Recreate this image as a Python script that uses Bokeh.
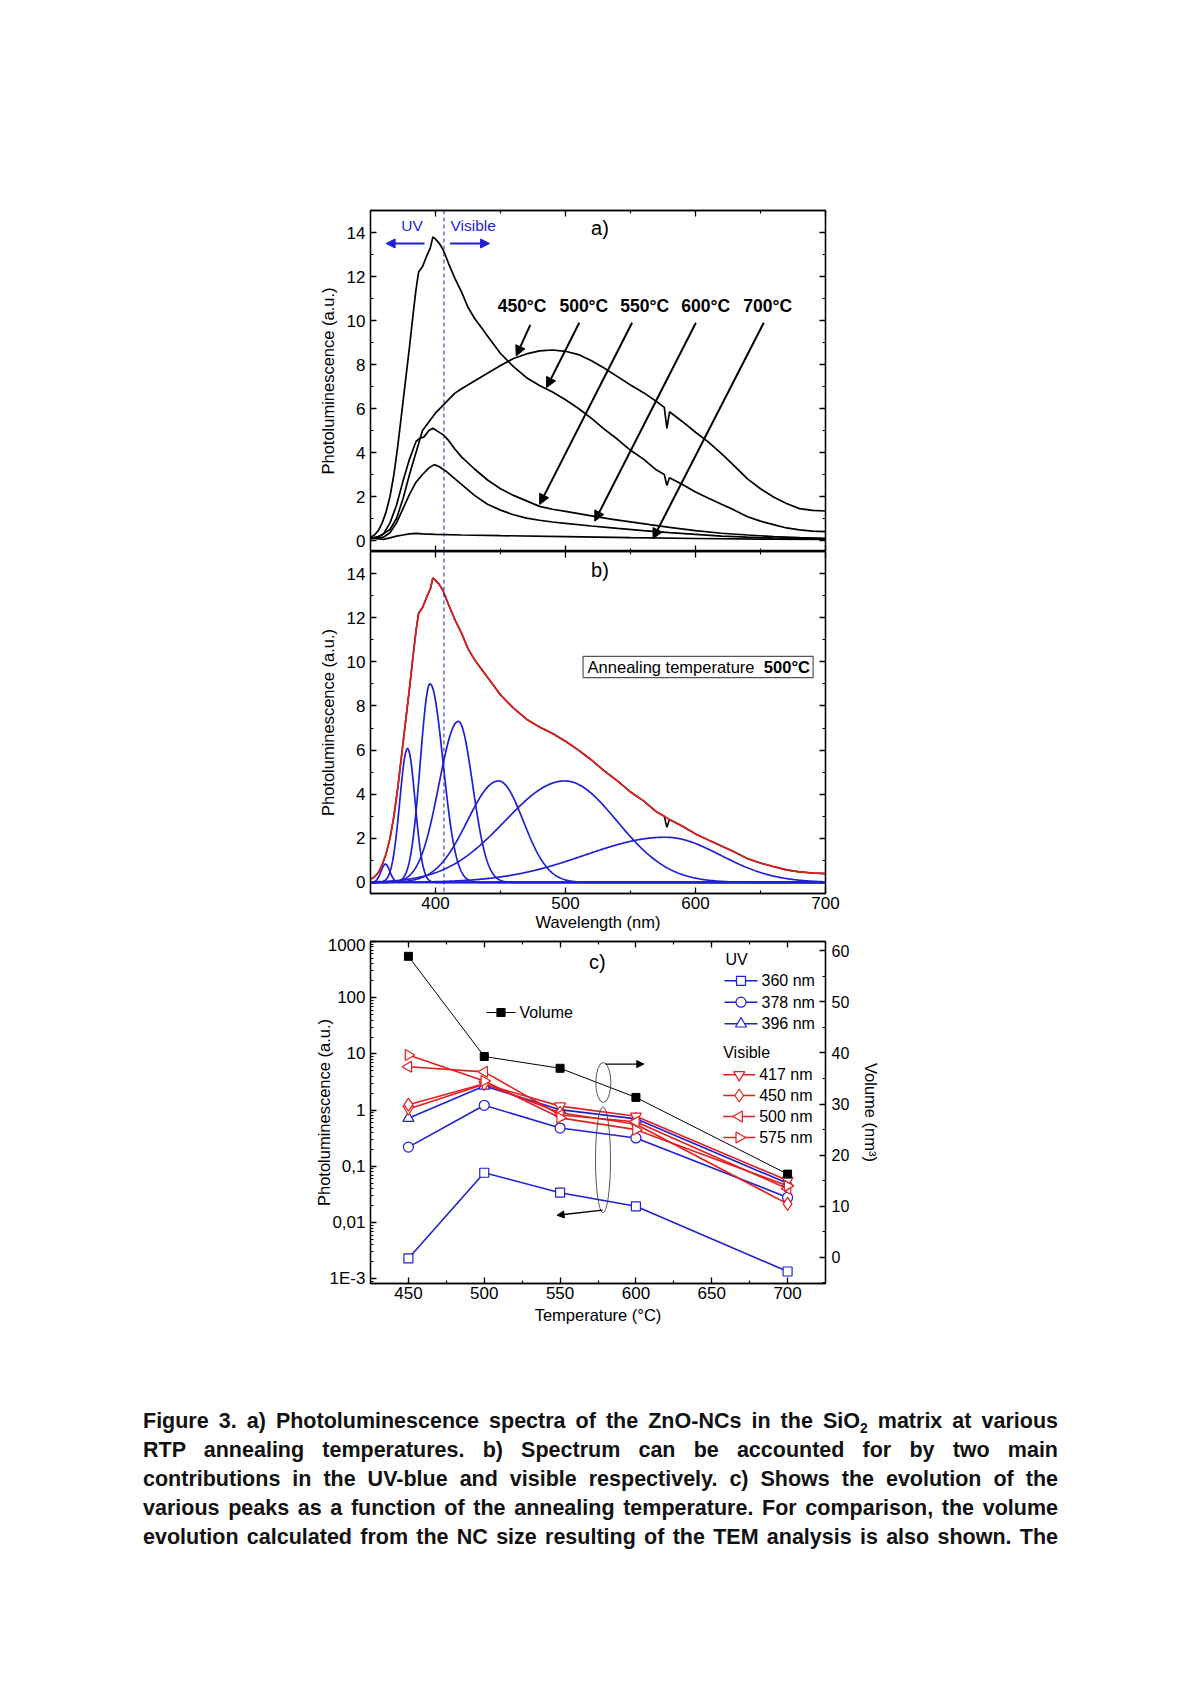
import numpy as np
from bokeh.plotting import figure
from bokeh.core.properties import value
from bokeh.models import (Range1d, LinearAxis, LinearScale, SingleIntervalTicker, FixedTicker, Span,
                          Label, Arrow, NormalHead, BoxAnnotation, Div, Spacer, CustomLabelingPolicy)
from bokeh.layouts import column, row
from bokeh.embed import file_html
from bokeh.resources import INLINE

FONT = "Liberation Sans"
BLUE = "#1f1fd4"
RED = "#e41f1f"
INK = "#000000"

# ---------------- Panel a: PL spectra per annealing temperature ----------------
wl_450 = [350, 355, 360, 365, 370, 375, 380, 385, 390, 395, 400, 405, 410, 415, 420, 430, 440, 450,
          460, 470, 480, 490, 500, 510, 520, 530, 540, 550, 560, 570, 576, 578, 580, 590, 600, 610,
          620, 630, 640, 650, 660, 670, 680, 690, 700]
pl_450 = [0.1, 0.15, 0.3, 0.5, 1.0, 1.9, 3.0, 4.0, 5.0, 5.4, 5.8, 6.1, 6.4, 6.7, 6.9, 7.25, 7.6, 7.95,
          8.27, 8.48, 8.62, 8.66, 8.6, 8.45, 8.17, 7.83, 7.45, 7.07, 6.72, 6.32, 6.05, 5.1, 5.85, 5.4,
          4.92, 4.47, 3.95, 3.38, 2.8, 2.35, 1.98, 1.68, 1.45, 1.37, 1.34]

wl_500 = [350, 353, 356, 359, 362, 365, 368, 371, 374, 377, 380, 383, 385, 387, 390, 393, 396, 398,
          400, 403, 406, 410, 415, 420, 425, 430, 435, 440, 445, 450, 455, 460, 470, 480, 490, 500,
          510, 520, 530, 540, 550, 560, 570, 576, 578, 580, 590, 600, 610, 620, 630, 640, 650, 660,
          670, 680, 690, 700]
pl_500 = [0.15, 0.25, 0.45, 0.8, 1.3, 2.0, 3.0, 4.3, 5.8, 7.3, 8.8, 10.4, 11.4, 12.2, 12.45, 12.9,
          13.3, 13.8, 13.7, 13.5, 13.2, 12.6, 11.9, 11.3, 10.6, 10.1, 9.7, 9.3, 8.9, 8.5, 8.2, 7.9,
          7.4, 7.05, 6.75, 6.4, 6.0, 5.55, 5.05, 4.6, 4.1, 3.7, 3.2, 3.0, 2.5, 2.85, 2.55, 2.2, 1.92,
          1.65, 1.38, 1.08, 0.88, 0.72, 0.57, 0.48, 0.43, 0.4]

wl_550 = [350, 355, 360, 365, 370, 375, 380, 385, 388, 391, 395, 398, 402, 406, 410, 415, 420, 430,
          440, 450, 460, 470, 480, 490, 500, 510, 520, 535, 550, 565, 580, 600, 620, 640, 660, 680, 700]
pl_550 = [0.1, 0.15, 0.3, 0.8, 1.6, 2.7, 3.7, 4.5, 4.65, 4.7, 5.0, 5.1, 4.95, 4.8, 4.55, 4.15, 3.8,
          3.25, 2.75, 2.35, 2.05, 1.8, 1.55, 1.42, 1.32, 1.22, 1.12, 0.97, 0.85, 0.72, 0.6, 0.45,
          0.33, 0.25, 0.18, 0.13, 0.1]

wl_600 = [350, 355, 360, 365, 370, 375, 380, 385, 390, 395, 399, 403, 408, 415, 420, 430, 440, 450,
          460, 470, 480, 490, 500, 520, 540, 560, 580, 600, 620, 640, 660, 680, 700]
pl_600 = [0.1, 0.1, 0.15, 0.35, 0.8, 1.45, 2.1, 2.65, 3.0, 3.3, 3.45, 3.35, 3.15, 2.8, 2.55, 2.05,
          1.65, 1.38, 1.17, 1.02, 0.92, 0.84, 0.78, 0.66, 0.55, 0.45, 0.36, 0.28, 0.2, 0.15, 0.11,
          0.09, 0.07]

wl_700 = [350, 355, 360, 365, 370, 375, 380, 385, 390, 400, 420, 450, 500, 550, 600, 650, 700]
pl_700 = [0.15, 0.08, 0.05, 0.12, 0.2, 0.25, 0.3, 0.32, 0.3, 0.28, 0.25, 0.22, 0.18, 0.13, 0.09,
          0.06, 0.05]

temp_labels = ["450°C", "500°C", "550°C", "600°C", "700°C"]

# ---------------- Panel b: Gaussian components of the 500°C spectrum ----------------
peak_nm = [361.5, 378.5, 395.8, 417.6, 448.5, 499.5, 577.0]
peak_height = [0.83, 6.07, 9.0, 7.3, 4.6, 4.6, 2.05]
sigma_left = [3.4, 6.0, 7.5, 15.0, 24.0, 46.0, 62.0]
sigma_right = [3.4, 5.8, 10.0, 11.0, 19.0, 40.0, 42.0]
glitch_nm = [578]

# ---------------- Panel c: peak intensities vs annealing temperature ----------------
temps = [450, 500, 550, 600, 700]
volume = [58.9, 39.3, 37.0, 31.3, 16.3]
uv_360 = [0.0023, 0.077, 0.034, 0.0195, 0.00135]
uv_378 = [0.22, 1.22, 0.48, 0.32, 0.028]
uv_396 = [0.72, 2.7, 1.02, 0.70, 0.05]
vis_417 = [1.05, 2.9, 1.18, 0.78, 0.056]
vis_450 = [1.25, 2.95, 0.90, 0.56, 0.0215]
vis_500 = [5.9, 4.8, 0.82, 0.62, 0.040]
vis_575 = [9.6, 3.3, 0.73, 0.45, 0.045]
log_tick_labels = {1000: "1000", 100: "100", 10: "10", 1: "1", 0.1: "0,1", 0.01: "0,01", 0.001: "1E-3"}


def base_fig(x_range, y_range, frame_h, top, bottom, right, y_type="linear"):
    p = figure(x_range=x_range, y_range=y_range, y_axis_type=y_type,
               frame_width=455, frame_height=frame_h,
               min_border_left=80, min_border_right=right,
               min_border_top=top, min_border_bottom=bottom,
               output_backend="svg", toolbar_location=None)
    p.grid.visible = False
    p.outline_line_color = INK
    p.outline_line_width = 1.3
    p.border_fill_color = "white"
    p.background_fill_color = "white"
    return p


def style_axis(ax, show_labels=True, font_size="17px", standoff=4):
    ax.axis_line_color = INK
    ax.axis_line_width = 1.3
    ax.major_tick_line_color = INK
    ax.minor_tick_line_color = INK
    ax.major_tick_line_width = 1.3
    ax.minor_tick_line_width = 1.1
    ax.major_tick_in = 6
    ax.major_tick_out = 0
    ax.minor_tick_in = 3
    ax.minor_tick_out = 0
    ax.major_label_text_font = FONT
    ax.major_label_text_color = INK
    ax.axis_label_text_font = FONT
    ax.axis_label_text_font_style = "normal"
    ax.axis_label_text_font_size = "16.5px"
    ax.axis_label_text_color = INK
    if show_labels:
        ax.major_label_text_font_size = font_size
        ax.major_label_standoff = standoff
    else:
        ax.major_label_text_font_size = "0px"
        ax.major_label_standoff = 0
        ax.major_label_policy = CustomLabelingPolicy(code="return []")


def add_mirror(p, ticker, side):
    ax = LinearAxis(ticker=ticker)
    style_axis(ax, False)
    p.add_layout(ax, side)


# ======================= Panel a =======================
x_tick_a = SingleIntervalTicker(interval=100, num_minor_ticks=2)
y_tick_a = SingleIntervalTicker(interval=2, num_minor_ticks=2)
pa = base_fig(Range1d(350, 700), Range1d(-0.5, 15), 341, 20, 0, 20)
pa.xaxis[0].ticker = x_tick_a
pa.yaxis[0].ticker = y_tick_a
style_axis(pa.xaxis[0], False)
style_axis(pa.yaxis[0], True, "17px", 5)
pa.yaxis[0].axis_label = "Photoluminescence (a.u.)"
pa.yaxis[0].axis_label_standoff = 7
add_mirror(pa, x_tick_a, "above")
add_mirror(pa, y_tick_a, "right")

for wl, pl in ((wl_450, pl_450), (wl_500, pl_500), (wl_550, pl_550), (wl_600, pl_600), (wl_700, pl_700)):
    pa.line(wl, pl, line_color=INK, line_width=1.7)

pa.add_layout(Span(location=406.5, dimension="height", line_color=BLUE, line_dash="4 3", line_width=1))
pa.add_layout(Label(x=382, y=14.34, text="UV", text_font=FONT, text_font_size="15.5px",
                    text_color=BLUE, text_align="center", text_baseline="middle"))
pa.add_layout(Label(x=429, y=14.34, text="Visible", text_font=FONT, text_font_size="15.5px",
                    text_color=BLUE, text_align="center", text_baseline="middle"))
pa.add_layout(Arrow(end=NormalHead(size=9, fill_color=BLUE, line_color=BLUE),
                    x_start=391.5, y_start=13.5, x_end=362, y_end=13.5, line_color=BLUE, line_width=2.2))
pa.add_layout(Arrow(end=NormalHead(size=9, fill_color=BLUE, line_color=BLUE),
                    x_start=411.2, y_start=13.5, x_end=441.6, y_end=13.5, line_color=BLUE, line_width=2.2))
pa.add_layout(Label(x=526.5, y=14.2, text="a)", text_font=FONT, text_font_size="20px",
                    text_color=INK, text_align="center", text_baseline="middle"))

label_x = [466.6, 514.1, 560.9, 607.9, 655.5]
arrow_coords = [(472.9, 9.8, 462.1, 8.39), (510.6, 9.9, 485.4, 6.95), (551.2, 9.9, 480.1, 1.64),
                (600.3, 9.9, 522.5, 0.88), (652.5, 9.9, 567.3, 0.08)]
for lx, txt, (xs, ys, xe, ye) in zip(label_x, temp_labels, arrow_coords):
    pa.add_layout(Label(x=lx, y=10.67, text=txt, text_font=FONT, text_font_size="17.5px",
                        text_font_style="bold", text_color=INK, text_align="center",
                        text_baseline="middle"))
    pa.add_layout(Arrow(end=NormalHead(size=10, fill_color=INK, line_color=INK),
                        x_start=xs, y_start=ys, x_end=xe, y_end=ye, line_color=INK, line_width=2))

# ======================= Panel b =======================
x_tick_b = SingleIntervalTicker(interval=100, num_minor_ticks=2)
y_tick_b = SingleIntervalTicker(interval=2, num_minor_ticks=2)
pb = base_fig(Range1d(350, 700), Range1d(-0.5, 15), 342, 0, 42, 20)
pb.xaxis[0].ticker = x_tick_b
pb.yaxis[0].ticker = y_tick_b
style_axis(pb.xaxis[0], True, "17px", 3)
style_axis(pb.yaxis[0], True, "17px", 5)
pb.xaxis[0].axis_label = "Wavelength (nm)"
pb.xaxis[0].axis_label_standoff = 1
pb.yaxis[0].axis_label = "Photoluminescence (a.u.)"
pb.yaxis[0].axis_label_standoff = 7
add_mirror(pb, x_tick_b, "above")
add_mirror(pb, y_tick_b, "right")

grid = np.linspace(350, 700, 701)
for c, h, sl, sr in zip(peak_nm, peak_height, sigma_left, sigma_right):
    s = np.where(grid < c, sl, sr)
    pb.line(grid, h * np.exp(-0.5 * ((grid - c) / s) ** 2), line_color=BLUE, line_width=1.7)
pb.add_layout(Span(location=0, dimension="width", line_color=BLUE, line_width=1.7))

pb.line(wl_500, pl_500, line_color=INK, line_width=1.6)
fit_wl = [w for w in wl_500 if w not in glitch_nm]
fit_pl = [v for w, v in zip(wl_500, pl_500) if w not in glitch_nm]
pb.line(fit_wl, fit_pl, line_color=RED, line_width=1.7)
pb.add_layout(Span(location=406.5, dimension="height", line_color=BLUE, line_dash="4 3", line_width=1))
pb.add_layout(Label(x=526.5, y=14.15, text="b)", text_font=FONT, text_font_size="20px",
                    text_color=INK, text_align="center", text_baseline="middle"))
pb.add_layout(BoxAnnotation(left=513.5, right=690.5, bottom=9.28, top=10.25, fill_alpha=0,
                            line_color="#555555", line_width=1.2, line_alpha=1))
pb.add_layout(Label(x=517, y=9.76, text="Annealing temperature", text_font=FONT,
                    text_font_size="16.5px", text_color=INK, text_align="left", text_baseline="middle"))
pb.add_layout(Label(x=688, y=9.76, text="500°C", text_font=FONT, text_font_size="16.5px",
                    text_font_style="bold", text_color=INK, text_align="right", text_baseline="middle"))

# ======================= Panel c =======================
pc = base_fig(Range1d(425, 725), Range1d(8.25e-4, 1000), 342, 6, 50, 60, y_type="log")
x_tick_c = SingleIntervalTicker(interval=50, num_minor_ticks=2)
pc.xaxis[0].ticker = x_tick_c
log_minor = [m * 10.0 ** e for e in range(-4, 3) for m in range(2, 10)]
pc.yaxis[0].ticker = FixedTicker(ticks=list(log_tick_labels.keys()), minor_ticks=log_minor)
pc.yaxis[0].major_label_overrides = log_tick_labels
style_axis(pc.xaxis[0], True, "17px", 3)
style_axis(pc.yaxis[0], True, "17px", 5)
pc.xaxis[0].axis_label = "Temperature (°C)"
pc.xaxis[0].axis_label_standoff = 4
pc.yaxis[0].axis_label = "Photoluminescence (a.u.)"
pc.yaxis[0].axis_label_standoff = -8
add_mirror(pc, x_tick_c, "above")
# "vol": right-hand volume axis; "px": frame-pixel space used for the hand-made legend
pc.extra_x_ranges = {"px": Range1d(0, 455)}
pc.extra_x_scales = {"px": LinearScale()}
pc.extra_y_ranges = {"vol": Range1d(-5.1, 61.8), "px": Range1d(0, 342)}
pc.extra_y_scales = {"vol": LinearScale(), "px": LinearScale()}
vol_axis = LinearAxis(y_range_name="vol", ticker=SingleIntervalTicker(interval=10, num_minor_ticks=2),
                      axis_label="Volume (nm³)")
style_axis(vol_axis, True, "16px", 6)
vol_axis.axis_label_standoff = 10
pc.add_layout(vol_axis, "right")

series = [
    ("360 nm", uv_360, BLUE, "square", 0.0, 9),
    ("378 nm", uv_378, BLUE, "circle", 0.0, 10),
    ("396 nm", uv_396, BLUE, "triangle", 0.0, 11),
    ("417 nm", vis_417, RED, "inverted_triangle", 0.0, 11),
    ("450 nm", vis_450, RED, "diamond", 0.0, 13),
    ("500 nm", vis_500, RED, "triangle", np.pi / 2, 11),
    ("575 nm", vis_575, RED, "triangle", -np.pi / 2, 11),
]
for name, vals, col, mk, ang, sz in series:
    pc.line(temps, vals, line_color=col, line_width=1.6)
    pc.scatter(temps, vals, marker=mk, angle=ang, size=sz, line_color=col, line_width=1.2,
               fill_color="white")

pc.line(temps, volume, y_range_name="vol", line_color=INK, line_width=1.0)
pc.scatter(temps, volume, y_range_name="vol", marker="square", size=8, line_color=INK, fill_color=INK)


def px_text(x, y, txt, size="16px"):
    pc.text(x=[x], y=[y], text=[txt], x_range_name="px", y_range_name="px",
            text_font=value(FONT), text_font_size=size, text_color=INK,
            text_align="left", text_baseline="middle")


def legend_entry(name, col, mk, ang, sz, x0, yc, glyph_w, filled=False, lw=1.6):
    pc.segment(x0=[x0], y0=[yc], x1=[x0 + glyph_w], y1=[yc], x_range_name="px", y_range_name="px",
               line_color=col, line_width=lw)
    pc.scatter(x=[x0 + glyph_w / 2], y=[yc], marker=mk, angle=ang, size=sz,
               x_range_name="px", y_range_name="px", line_color=col, line_width=1.2,
               fill_color=col if filled else "white")
    px_text(x0 + glyph_w + 4, yc, name)


# hand-made legends (frame pixel coordinates, origin at bottom-left of the frame)
px_text(355, 324, "UV")
for (name, vals, col, mk, ang, sz), yc in zip(series[:3], [302.7, 281.3, 259.7]):
    legend_entry(name, col, mk, ang, sz, 354, yc, 33)
px_text(352.7, 231, "Visible")
for (name, vals, col, mk, ang, sz), yc in zip(series[3:], [208.7, 188.0, 167.0, 146.0]):
    legend_entry(name, col, mk, ang, sz, 352.7, yc, 32)
legend_entry("Volume", INK, "square", 0.0, 8, 116, 271, 29, filled=True, lw=1.0)

pc.add_layout(Label(x=574.5, y=437, text="c)", text_font=FONT, text_font_size="20px",
                    text_color=INK, text_align="center", text_baseline="middle"))
pc.ellipse(x=[578.5], y=[3.1], width=15, height=40, width_units="screen", height_units="screen",
           fill_alpha=0, line_color="#444444", line_width=0.9)
pc.ellipse(x=[578.3], y=[0.131], width=15, height=106, width_units="screen", height_units="screen",
           fill_alpha=0, line_color="#444444", line_width=0.9)
pc.add_layout(Arrow(end=NormalHead(size=7, fill_color=INK, line_color=INK),
                    x_start=580.0, y_start=6.59, x_end=605.2, y_end=6.59, line_color=INK, line_width=1.3))
pc.add_layout(Arrow(end=NormalHead(size=7, fill_color=INK, line_color=INK),
                    x_start=578.0, y_start=0.0166, x_end=548.0, y_end=0.0135, line_color=INK,
                    line_width=1.3))

# ======================= Caption =======================
caption_lines = [
    "Figure 3. a) Photoluminescence spectra of the ZnO-NCs in the SiO<sub style='font-size:65%;line-height:0;'>2</sub> matrix at various",
    "RTP annealing temperatures. b) Spectrum can be accounted for by two main",
    "contributions in the UV-blue and visible respectively. c) Shows the evolution of the",
    "various peaks as a function of the annealing temperature. For comparison, the volume",
    "evolution calculated from the NC size resulting of the TEM analysis is also shown. The",
]
html = ("<div style=\"font-family:'Liberation Sans',Arial,sans-serif;font-weight:bold;"
        "font-size:21.5px;line-height:29px;color:#111;width:915px;\">"
        + "".join("<div style='text-align:justify;text-align-last:justify;'>%s</div>" % ln
                  for ln in caption_lines)
        + "</div>")
caption = Div(text=html, width=915, height=150)

layout = column(
    Spacer(height=190),
    row(Spacer(width=290), pa),
    row(Spacer(width=290), pb),
    row(Spacer(width=290), pc),
    Spacer(height=69),
    row(Spacer(width=138), caption),
)

open("out.html", "w").write(file_html(layout, INLINE))
